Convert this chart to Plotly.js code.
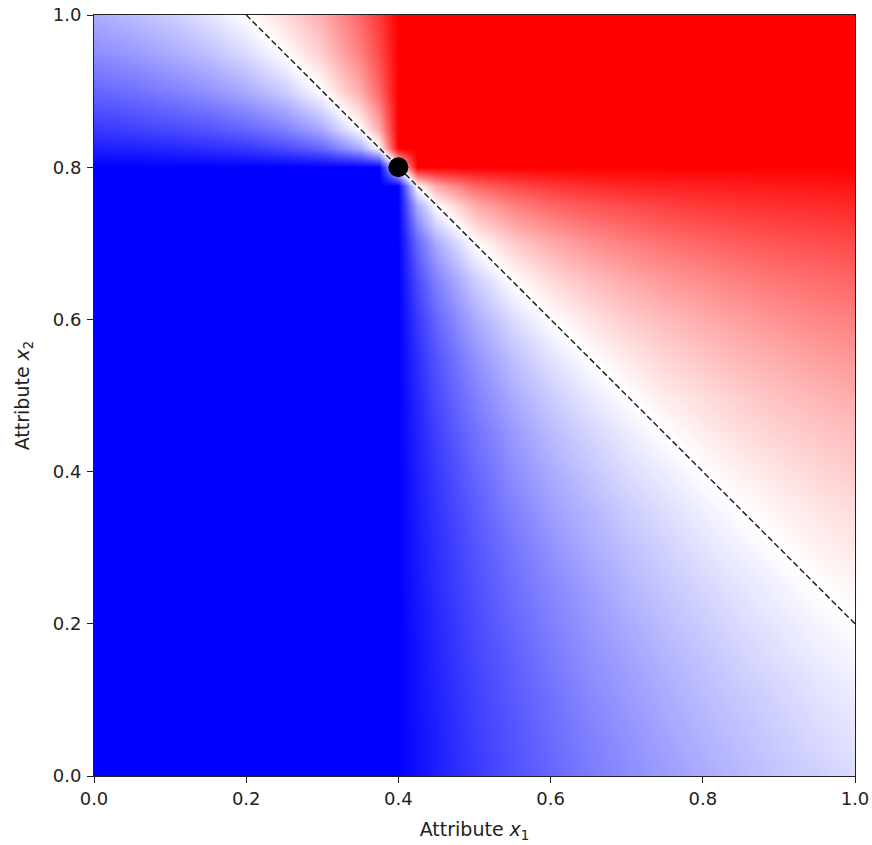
<!DOCTYPE html>
<html>
<head>
<meta charset="utf-8">
<script src="https://cdn.plot.ly/plotly-3.0.1.min.js"></script>
<style>
  html, body { margin: 0; padding: 0; background: #fff; }
  #chart { width: 872px; height: 845px; }
</style>
</head>
<body>
<div id="chart"></div>
<script>
// Grid coordinates (sample centres) of the field, finer around the marked point
var gridX = [0,0.05,0.1,0.15,0.2,0.25,0.3,0.35,0.375,0.4,0.425,0.45,0.5,0.55,0.6,0.65,0.7,0.75,0.8,0.85,0.9,0.95,1.0];
var gridY = [0,0.05,0.1,0.15,0.2,0.25,0.3,0.35,0.4,0.45,0.5,0.55,0.6,0.65,0.7,0.75,0.775,0.8,0.825,0.85,0.9,0.95,1.0];

var fieldZ = [
  [-1,-1,-1,-1,-1,-1,-1,-1,-1,-1,-0.94,-0.88,-0.78,-0.68,-0.60,-0.52,-0.45,-0.39,-0.33,-0.28,-0.23,-0.19,-0.14],
  [-1,-1,-1,-1,-1,-1,-1,-1,-1,-1,-0.94,-0.88,-0.76,-0.67,-0.58,-0.50,-0.43,-0.36,-0.30,-0.25,-0.20,-0.15,-0.11],
  [-1,-1,-1,-1,-1,-1,-1,-1,-1,-1,-0.93,-0.87,-0.75,-0.65,-0.56,-0.47,-0.40,-0.33,-0.27,-0.22,-0.17,-0.12,-0.08],
  [-1,-1,-1,-1,-1,-1,-1,-1,-1,-1,-0.93,-0.86,-0.73,-0.63,-0.53,-0.44,-0.37,-0.30,-0.24,-0.18,-0.13,-0.08,-0.04],
  [-1,-1,-1,-1,-1,-1,-1,-1,-1,-1,-0.92,-0.85,-0.71,-0.60,-0.50,-0.41,-0.33,-0.26,-0.20,-0.14,-0.09,-0.04,0],
  [-1,-1,-1,-1,-1,-1,-1,-1,-1,-1,-0.91,-0.83,-0.69,-0.57,-0.47,-0.38,-0.29,-0.22,-0.16,-0.10,-0.05,0,0.04],
  [-1,-1,-1,-1,-1,-1,-1,-1,-1,-1,-0.90,-0.82,-0.67,-0.54,-0.43,-0.33,-0.25,-0.18,-0.11,-0.05,0,0.05,0.09],
  [-1,-1,-1,-1,-1,-1,-1,-1,-1,-1,-0.89,-0.80,-0.64,-0.50,-0.38,-0.29,-0.20,-0.13,-0.06,0,0.05,0.10,0.14],
  [-1,-1,-1,-1,-1,-1,-1,-1,-1,-1,-0.88,-0.78,-0.60,-0.45,-0.33,-0.23,-0.14,-0.07,0,0.06,0.11,0.16,0.20],
  [-1,-1,-1,-1,-1,-1,-1,-1,-1,-1,-0.87,-0.75,-0.56,-0.40,-0.27,-0.17,-0.08,0,0.07,0.13,0.18,0.22,0.26],
  [-1,-1,-1,-1,-1,-1,-1,-1,-1,-1,-0.85,-0.71,-0.50,-0.33,-0.20,-0.09,0,0.08,0.14,0.20,0.25,0.29,0.33],
  [-1,-1,-1,-1,-1,-1,-1,-1,-1,-1,-0.82,-0.67,-0.43,-0.25,-0.11,0,0.09,0.17,0.23,0.29,0.33,0.38,0.41],
  [-1,-1,-1,-1,-1,-1,-1,-1,-1,-1,-0.78,-0.60,-0.33,-0.14,0,0.11,0.20,0.27,0.33,0.38,0.43,0.47,0.50],
  [-1,-1,-1,-1,-1,-1,-1,-1,-1,-1,-0.71,-0.50,-0.20,0,0.14,0.25,0.33,0.40,0.45,0.50,0.54,0.57,0.60],
  [-1,-1,-1,-1,-1,-1,-1,-1,-1,-1,-0.60,-0.33,0,0.20,0.33,0.43,0.50,0.56,0.60,0.64,0.67,0.69,0.71],
  [-1,-1,-1,-1,-1,-1,-1,-1,-1,-1,-0.33,0,0.33,0.50,0.60,0.67,0.71,0.75,0.78,0.80,0.82,0.83,0.85],
  [-1,-1,-1,-1,-1,-1,-1,-1,-1,-1,0,0.33,0.60,0.71,0.78,0.82,0.85,0.87,0.88,0.89,0.90,0.91,0.92],
  [-1,-1,-1,-1,-1,-1,-1,-1,-1,0,1,1,1,1,1,1,1,1,1,1,1,1,1],
  [-0.88,-0.87,-0.85,-0.82,-0.78,-0.71,-0.60,-0.33,0,1,1,1,1,1,1,1,1,1,1,1,1,1,1],
  [-0.78,-0.75,-0.71,-0.67,-0.60,-0.50,-0.33,0,0.33,1,1,1,1,1,1,1,1,1,1,1,1,1,1],
  [-0.60,-0.56,-0.50,-0.43,-0.33,-0.20,0,0.33,0.60,1,1,1,1,1,1,1,1,1,1,1,1,1,1],
  [-0.45,-0.40,-0.33,-0.25,-0.14,0,0.20,0.50,0.71,1,1,1,1,1,1,1,1,1,1,1,1,1,1],
  [-0.33,-0.27,-0.20,-0.11,0,0.14,0.33,0.60,0.78,1,1,1,1,1,1,1,1,1,1,1,1,1,1]
];

// Dashed boundary line x1 + x2 = 1.2
var lineX = [0.2, 1.0];
var lineY = [1.0, 0.2];

// Highlighted point
var pointX = [0.4];
var pointY = [0.8];

// Ticks
var tickVals = [0, 0.2, 0.4, 0.6, 0.8, 1.0];
var tickText = ['0.0', '0.2', '0.4', '0.6', '0.8', '1.0'];

var bwr = [[0, 'rgb(0,0,255)'], [0.5, 'rgb(255,255,255)'], [1, 'rgb(255,0,0)']];

var traces = [
  {
    type: 'heatmap',
    x: gridX, y: gridY, z: fieldZ,
    colorscale: bwr, zmin: -1, zmax: 1,
    zsmooth: 'best', showscale: false, hoverinfo: 'skip'
  },
  {
    type: 'scatter', mode: 'lines',
    x: lineX, y: lineY,
    line: { color: '#222', width: 1.5, dash: '6px,3px' },
    hoverinfo: 'skip'
  },
  {
    type: 'scatter', mode: 'markers',
    x: pointX, y: pointY,
    marker: { color: '#000', size: 20, line: { width: 0 } },
    hoverinfo: 'skip'
  }
];

var tickFont = { family: 'DejaVu Sans', size: 18, color: '#222' };
var titleFont = { family: 'DejaVu Sans', size: 19, color: '#222' };

var layout = {
  width: 872, height: 845,
  margin: { l: 94, r: 17, t: 15, b: 69 },
  paper_bgcolor: '#fff', plot_bgcolor: '#fff',
  showlegend: false,
  xaxis: {
    range: [0, 1], tickvals: tickVals, ticktext: tickText,
    ticks: 'outside', ticklen: 6, tickwidth: 1, tickcolor: '#222',
    showline: true, mirror: true, linecolor: '#222', linewidth: 1,
    showgrid: false, zeroline: false, automargin: false,
    tickfont: tickFont,
    title: { text: 'Attribute <i>x</i><sub>1</sub>', font: titleFont, standoff: 15 }
  },
  yaxis: {
    range: [0, 1], tickvals: tickVals, ticktext: tickText,
    ticks: 'outside', ticklen: 6, tickwidth: 1, tickcolor: '#222',
    showline: true, mirror: true, linecolor: '#222', linewidth: 1,
    showgrid: false, zeroline: false, automargin: false,
    ticklabelstandoff: 2,
    tickfont: tickFont,
    title: { text: 'Attribute <i>x</i><sub>2</sub>', font: titleFont, standoff: 18 }
  }
};

Plotly.newPlot('chart', traces, layout, { staticPlot: true, displayModeBar: false });
</script>
</body>
</html>
